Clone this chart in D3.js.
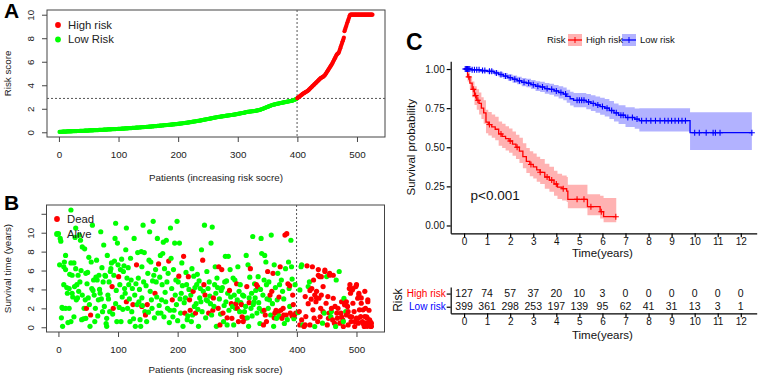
<!DOCTYPE html>
<html>
<head>
<meta charset="utf-8">
<script src="https://cdn.jsdelivr.net/npm/d3@7"></script>
<style>
  body { margin: 0; background: #fff; }
  svg { display: block; font-family: "Liberation Sans", Arial, sans-serif; }
</style>
</head>
<body>
<div id="chart"></div>
<script>
// ---- panel A: sorted risk score per patient (1..526) ----
const riskScores = [
  0.03,0.03,0.04,0.04,0.04,0.05,0.05,0.05,0.05,0.06,0.06,0.06,0.06,0.07,0.07,0.07,0.07,0.07,0.08,0.08,
  0.08,0.08,0.09,0.09,0.09,0.09,0.10,0.10,0.10,0.10,0.11,0.11,0.11,0.11,0.12,0.12,0.12,0.12,0.13,0.13,
  0.13,0.13,0.14,0.14,0.14,0.14,0.15,0.15,0.15,0.15,0.16,0.16,0.16,0.16,0.17,0.17,0.17,0.17,0.18,0.18,
  0.18,0.18,0.19,0.19,0.19,0.19,0.20,0.20,0.20,0.20,0.21,0.21,0.21,0.21,0.22,0.22,0.22,0.22,0.23,0.23,
  0.23,0.24,0.24,0.24,0.25,0.25,0.25,0.25,0.26,0.26,0.26,0.27,0.27,0.27,0.27,0.28,0.28,0.28,0.29,0.29,
  0.29,0.30,0.30,0.30,0.31,0.31,0.31,0.32,0.32,0.32,0.33,0.33,0.33,0.34,0.34,0.34,0.35,0.35,0.35,0.36,
  0.36,0.36,0.37,0.37,0.37,0.38,0.38,0.38,0.39,0.39,0.39,0.40,0.40,0.41,0.41,0.41,0.42,0.42,0.43,0.43,
  0.43,0.44,0.44,0.45,0.45,0.45,0.46,0.46,0.47,0.47,0.48,0.48,0.48,0.49,0.49,0.50,0.50,0.51,0.51,0.52,
  0.52,0.52,0.53,0.53,0.54,0.54,0.55,0.55,0.56,0.56,0.57,0.57,0.58,0.58,0.59,0.59,0.60,0.60,0.61,0.61,
  0.62,0.62,0.63,0.63,0.64,0.64,0.65,0.65,0.66,0.66,0.67,0.67,0.68,0.68,0.69,0.69,0.70,0.70,0.71,0.71,
  0.72,0.73,0.73,0.74,0.75,0.75,0.76,0.77,0.77,0.78,0.79,0.80,0.80,0.81,0.82,0.83,0.83,0.84,0.85,0.86,
  0.87,0.87,0.88,0.89,0.90,0.91,0.92,0.92,0.93,0.94,0.95,0.96,0.97,0.98,0.98,0.99,1.00,1.01,1.02,1.03,
  1.04,1.05,1.06,1.07,1.08,1.09,1.10,1.11,1.12,1.13,1.14,1.15,1.16,1.17,1.18,1.19,1.20,1.21,1.22,1.23,
  1.24,1.25,1.26,1.27,1.28,1.29,1.30,1.31,1.32,1.32,1.33,1.34,1.35,1.35,1.36,1.37,1.38,1.38,1.39,1.40,
  1.41,1.41,1.42,1.43,1.44,1.44,1.45,1.46,1.47,1.47,1.48,1.49,1.50,1.51,1.51,1.52,1.53,1.54,1.55,1.56,
  1.57,1.58,1.59,1.60,1.61,1.62,1.63,1.64,1.65,1.66,1.67,1.68,1.70,1.71,1.72,1.73,1.74,1.74,1.75,1.76,
  1.76,1.77,1.78,1.78,1.79,1.80,1.80,1.81,1.82,1.83,1.84,1.85,1.86,1.87,1.88,1.89,1.90,1.92,1.94,1.96,
  1.98,2.00,2.02,2.04,2.06,2.08,2.10,2.12,2.14,2.16,2.18,2.20,2.22,2.24,2.26,2.28,2.30,2.32,2.34,2.35,
  2.36,2.37,2.38,2.40,2.41,2.42,2.43,2.44,2.45,2.46,2.48,2.49,2.50,2.51,2.52,2.53,2.54,2.55,2.56,2.57,
  2.58,2.59,2.60,2.61,2.62,2.63,2.64,2.65,2.66,2.67,2.68,2.70,2.72,2.74,2.76,2.78,2.80,2.82,2.85,
  2.90,2.94,2.98,3.02,3.06,3.10,3.14,3.18,3.22,3.26,3.30,3.33,3.36,3.39,3.42,3.45,3.48,3.51,3.55,3.60,
  3.65,3.70,3.75,3.80,3.85,3.90,3.95,4.00,4.05,4.10,4.15,4.20,4.25,4.30,4.35,4.40,4.45,4.50,4.55,4.60,
  4.63,4.66,4.69,4.72,4.75,4.80,4.85,4.92,5.00,5.08,5.16,5.24,5.32,5.40,5.48,5.56,5.64,5.72,5.80,5.90,
  6.00,6.10,6.20,6.30,6.40,6.50,6.60,6.65,6.70,6.75,6.85,7.00,7.15,7.30,7.45,7.60,7.75,7.90,8.05,8.60,
  8.75,8.90,9.05,9.20,9.35,9.50,9.65,9.80,9.95,10,10,10,10,10,10,10,10,10,10,10,
  10,10,10,10,10,10,10,10,10,10,10,10,10,10,10,10,10,10,10,10,
  10,10,10,10,10,10,10
];
const lowRiskCount = 399;
const riskCutoff = 2.88;
const patientTicks = [0, 100, 200, 300, 400, 500];
const scoreTicks = [0, 2, 4, 6, 8, 10];

// ---- panel B: [patient, survival years, dead(1)/alive(0)] ----
const survivalPts = [
  [0,9.9,0],[3,9.4,0],[4,9.1,0],[5,1.0,0],[7,0.1,0],[7,2.0,0],[9,6.4,0],[9,4.5,0],[12,2.0,0],[12,7.6,0],
  [12,6.1,0],[15,3.6,0],[18,2.0,0],[18,4.1,0],[21,12.4,0],[21,6.8,0],[21,0.6,0],[23,5.5,0],[23,3.6,0],[26,6.8,0],
  [26,1.1,0],[29,6.2,0],[29,10.5,0],[31,4.5,0],[32,3.1,0],[33,5.5,0],[35,9.75,0],[36,4.8,0],[37,9.2,0],[39,0.8,0],
  [40,8.5,0],[40,3.4,0],[43,2.0,0],[46,0.95,0],[46,5.7,0],[47,2.0,1],[48,4.6,0],[50,3.1,0],[53,0.1,0],[54,1.3,1],
  [56,4.1,0],[57,10.8,0],[59,5.0,0],[60,3.4,0],[61,0.6,0],[64,7.1,0],[65,5.0,0],[67,2.9,0],[68,5.5,0],[70,3.6,0],
  [71,10.1,0],[74,1.65,0],[75,4.8,0],[76,8.7,0],[78,5.5,0],[81,0.95,0],[81,0.1,0],[82,7.6,0],[83,3.4,0],[85,4.8,0],
  [86,1.65,0],[88,6.2,0],[89,6.8,0],[90,4.3,1],[92,2.0,1],[93,5.5,0],[95,9.4,0],[96,11.0,0],[96,2.5,0],[98,0.6,0],
  [99,8.9,0],[100,6.6,0],[101,5.35,1],[103,4.5,0],[104,6.1,0],[105,0.6,0],[107,3.2,0],[109,5.9,0],[111,4.1,0],[113,8.2,0],
  [114,2.7,1],[114,10.5,0],[115,5.2,0],[118,4.5,0],[120,0.6,0],[121,7.3,0],[123,1.65,0],[124,4.1,0],[125,2.4,1],[127,9.4,0],
  [128,3.4,0],[129,0.1,0],[131,6.6,1],[132,2.4,0],[134,5.2,0],[137,0.8,0],[138,0.1,0],[139,8.0,0],[140,6.4,0],[140,3.1,0],
  [142,10.8,0],[143,4.8,0],[145,1.65,0],[146,1.3,1],[148,0.6,0],[149,2.4,1],[150,5.7,0],[152,7.1,0],[153,10.1,0],[154,3.8,0],
  [157,2.0,0],[159,11.2,0],[160,5.5,0],[162,3.6,1],[163,6.1,0],[164,4.8,0],[166,9.4,0],[167,1.5,0],[168,6.7,1],[171,7.6,0],
  [173,2.9,0],[174,4.5,0],[176,9.0,0],[177,1.1,0],[178,6.2,0],[180,2.7,0],[181,9.2,0],[182,4.8,0],[185,7.0,1],[187,1.8,0],
  [188,10.5,0],[190,4.1,0],[191,2.9,1],[192,1.1,0],[193,6.1,0],[195,8.9,0],[196,3.4,0],[199,11.2,0],[201,4.8,0],[202,5.4,1],
  [203,8.9,0],[205,1.5,0],[206,3.6,0],[207,6.8,0],[209,0.1,0],[210,7.5,1],[212,1.5,1],[213,3.1,0],[215,4.5,0],[216,0.8,0],
  [218,5.35,1],[220,2.9,1],[221,1.8,1],[223,0.6,0],[224,6.2,0],[226,3.8,1],[227,5.4,0],[230,1.5,1],[231,2.5,0],[232,4.5,0],
  [235,0.1,0],[237,3.1,0],[238,4.1,0],[240,8.2,0],[241,1.65,0],[242,7.1,1],[244,4.5,1],[245,10.8,0],[246,3.4,1],[248,2.9,0],
  [249,5.9,0],[251,4.1,0],[252,1.5,1],[255,2.5,0],[256,8.9,0],[258,10.6,0],[259,1.8,1],[260,3.1,1],[262,4.5,0],[263,6.4,0],
  [265,0.1,0],[266,5.2,0],[268,2.0,1],[269,6.4,1],[271,0.25,1],[273,3.9,0],[274,6.1,1],[276,1.5,1],[277,0.6,0],[279,4.8,0],
  [280,7.5,0],[281,2.7,0],[283,0.25,0],[284,3.6,0],[285,7.5,0],[287,3.9,1],[288,6.1,0],[290,2.5,1],[291,0.95,1],[293,5.2,0],
  [294,0.25,0],[295,3.4,0],[297,2.0,0],[298,2.5,1],[299,4.6,1],[301,6.4,0],[302,0.6,1],[304,1.65,0],[305,4.5,0],[307,2.4,1],
  [308,1.1,1],[309,3.4,0],[310,0.6,1],[312,1.65,0],[313,0.95,1],[315,7.6,0],[316,4.3,1],[318,6.6,0],[319,0.1,0],[320,3.1,0],
  [322,6.2,1],[323,2.0,0],[324,3.6,0],[326,9.6,0],[327,2.4,0],[329,4.6,0],[330,3.1,0],[332,4.5,1],[333,1.5,0],[334,4.3,1],
  [335,5.35,0],[337,2.0,0],[338,0.4,0],[340,9.4,0],[341,7.8,0],[343,3.4,0],[344,0.25,1],[346,7.6,0],[347,1.3,1],[348,6.9,0],
  [349,0.6,1],[349,4.5,0],[351,5.9,1],[352,2.0,0],[354,2.9,0],[355,3.4,1],[357,9.75,0],[358,3.8,1],[360,5.7,1],[361,0.1,0],
  [362,6.6,0],[363,1.5,1],[365,1.8,1],[366,0.95,0],[368,5.7,0],[369,1.65,1],[371,4.5,0],[372,6.4,1],[373,1.8,1],[375,0.95,1],
  [376,3.8,0],[377,2.0,1],[379,0.4,0],[380,9.75,1],[382,1.3,1],[383,9.9,1],[385,4.6,1],[386,6.9,0],[387,4.1,0],[389,1.5,1],
  [390,9.2,0],[391,6.4,0],[393,3.4,1],[394,2.4,1],[396,1.3,1],[397,4.5,0],[398,1.5,1],
  [2,6.6,0],[6,2.1,0],[10,6.9,0],[14,4.2,0],[16,0.5,0],[19,5.6,0],[24,3.2,0],[27,4.3,0],[28,9.5,0],[30,2.9,0],
  [34,3.8,0],[38,6.0,0],[42,0.9,0],[44,8.3,0],[45,2.9,0],[49,5.8,0],[51,7.4,0],[52,2.4,0],[55,6.9,0],[58,3.9,0],
  [62,2.0,0],[63,5.3,0],[66,1.2,0],[69,4.0,0],[72,3.0,0],[73,6.3,0],[77,2.2,0],[79,5.4,0],[80,0.4,0],[84,3.0,0],
  [87,5.9,0],[91,1.4,0],[94,7.0,0],[97,3.9,0],[102,2.1,0],[106,7.2,0],[108,1.9,0],[110,6.5,0],[112,3.6,0],[116,2.0,0],
  [117,6.3,0],[119,3.0,0],[122,5.0,0],[126,0.9,0],[130,4.6,0],[133,7.9,0],[135,2.7,0],[136,4.0,0],[141,2.3,0],[144,7.9,0],
  [147,4.4,0],[151,1.6,0],[155,6.9,0],[156,2.9,0],[158,4.9,0],[161,1.0,0],[165,3.2,0],[169,2.3,0],[170,5.3,0],[172,1.5,0],
  [175,7.8,0],[179,3.7,0],[183,2.0,0],[184,5.7,0],[186,0.5,0],[189,7.3,0],[194,1.8,0],[197,5.0,0],[198,2.4,0],[200,0.7,0],
  [204,3.0,0],[208,4.4,0],[211,2.6,0],[214,5.8,0],[217,1.2,0],[219,4.0,0],[222,3.4,0],[225,1.3,0],[228,2.2,0],[229,4.2,0],
  [233,5.6,0],[234,1.9,0],[236,4.9,0],[239,2.7,0],[243,3.8,0],[247,1.0,0],[250,2.8,0],[253,4.8,0],[254,3.3,0],[257,1.3,0],
  [261,2.2,0],[264,3.6,0],[267,4.2,0],[270,3.0,0],[272,1.4,0],[275,4.2,0],[278,2.3,0],[282,4.9,0],[286,1.8,0],[289,3.2,0],
  [292,2.2,0],[296,5.0,0],[300,2.9,0],[303,3.8,0],[306,2.6,0],[311,3.3,0],[314,2.2,0],[317,1.0,0],[321,5.3,0],[325,1.2,0],
  [328,2.7,0],[331,3.9,0],[336,2.6,0],[339,4.0,0],[342,1.7,0],[345,5.0,0],[350,3.0,0],[353,4.8,0],[356,1.3,0],[359,2.5,0],
  [364,4.2,0],[367,2.9,0],[370,1.2,0],[374,5.0,0],[378,3.0,0],[381,6.2,0],[384,0.8,0],[388,2.2,0],[392,5.1,0],[395,0.9,0],
  [140,2.2,1],[283,1.0,1],[300,2.0,1],[320,2.6,1],[345,1.8,1],[362,1.0,1],[370,3.2,1],[388,4.4,1],[392,1.2,1],[378,1.3,1],
  [402,1.55,0],[404,1.66,1],[405,3.95,0],[405,0.25,1],[407,6.4,0],[408,0.78,1],[408,6.6,0],[410,0.25,0],[412,0.08,1],[414,3.25,1],
  [414,0.25,1],[415,1.13,1],[417,6.5,1],[419,4.3,0],[419,2.5,1],[421,4.8,0],[422,0.25,1],[422,3.9,1],[424,2.97,1],[425,4.1,1],
  [426,6.4,1],[427,1.84,1],[428,5.0,1],[429,0.96,1],[430,0.08,0],[430,3.4,1],[432,2.7,1],[433,3.8,1],[433,3.1,1],[435,0.6,1],
  [436,6.1,1],[436,5.5,1],[437,3.07,1],[438,5.36,1],[439,1.1,1],[440,2.0,1],[441,3.4,1],[441,5.35,1],[443,0.43,0],[444,4.3,1],
  [444,1.65,1],[446,1.5,0],[447,5.9,1],[447,6.05,1],[449,2.54,1],[450,5.36,0],[451,0.25,1],[452,3.25,1],[453,0.95,1],[454,1.5,1],
  [455,5.5,1],[455,5.7,1],[457,1.13,0],[458,1.66,0],[458,2.0,1],[460,0.78,1],[461,3.07,1],[461,5.5,1],[463,0.43,1],[464,2.2,1],
  [465,0.08,0],[466,5.0,0],[467,1.5,1],[468,0.96,1],[469,2.0,1],[471,5.9,0],[472,0.43,1],[474,1.5,1],[475,2.7,1],[475,1.1,1],
  [477,0.78,1],[478,0.08,1],[478,0.6,0],[479,3.07,0],[480,2.37,1],[482,1.66,0],[483,1.3,1],[483,2.7,1],[485,2.2,1],[486,0.25,1],
  [486,1.65,1],[488,4.1,1],[489,1.13,1],[489,4.5,1],[490,3.6,1],[491,0.6,1],[492,1.1,1],[493,3.95,1],[494,2.54,1],[494,4.1,1],
  [496,1.66,1],[497,0.08,1],[497,0.6,1],[499,4.3,1],[500,0.96,1],[500,4.5,1],[502,3.07,1],[503,0.43,1],[503,0.95,1],[504,3.6,1],
  [504,3.4,1],[505,1.84,1],[507,1.13,1],[508,2.54,1],[508,3.1,1],[510,0.6,1],[511,1.84,1],[511,0.4,1],[513,0.08,1],[514,1.13,1],
  [514,3.8,1],[515,2.0,1],[516,0.43,1],[517,1.1,1],[518,0.96,1],[518,0.1,1],[519,2.9,1],[519,2.7,1],[521,0.25,1],[521,1.8,1],
  [522,0.78,1],[523,0.6,1],[524,0.08,1],[525,0.43,1],[525,0.1,1]
];
const timeTicksB = [0, 2, 4, 6, 8, 10, 12];
const timeLabelsB = [0, 2, 4, 6, 8, 10];

// ---- panel C: Kaplan-Meier steps ----
const highTime  = [0,0.15,0.25,0.35,0.45,0.55,0.65,0.75,0.85,0.95,1.05,1.2,1.35,1.5,1.65,1.8,1.95,2.1,2.25,2.4,2.55,2.7,2.85,3.0,3.15,3.3,3.5,3.7,3.9,4.05,4.25,4.45,4.5,5.35,5.9,6.05,6.6];
const highSurv  = [1,0.95,0.91,0.87,0.83,0.80,0.78,0.75,0.72,0.66,0.645,0.63,0.615,0.585,0.57,0.555,0.54,0.52,0.50,0.475,0.44,0.41,0.39,0.375,0.355,0.34,0.31,0.29,0.265,0.245,0.235,0.22,0.167,0.12,0.088,0.056,0.056];
const highLower = [1,0.92,0.87,0.82,0.77,0.74,0.71,0.68,0.65,0.59,0.575,0.56,0.545,0.51,0.495,0.48,0.465,0.445,0.425,0.40,0.365,0.335,0.315,0.30,0.28,0.265,0.235,0.215,0.19,0.17,0.16,0.15,0.11,0.065,0.045,0.02,0.02];
const highUpper = [1,0.98,0.95,0.92,0.89,0.87,0.85,0.82,0.80,0.74,0.725,0.71,0.695,0.665,0.65,0.635,0.62,0.60,0.58,0.56,0.525,0.495,0.475,0.46,0.44,0.425,0.395,0.375,0.35,0.33,0.32,0.31,0.26,0.20,0.19,0.176,0.176];
const highCensor = [0.1,0.2,0.4,0.5,0.6,1.1,1.6,2.0,2.3,2.9,3.3,3.6,3.8,4.0,4.3,4.9,5.2,5.5,5.95,6.58];

const lowTime  = [0,0.3,0.7,1.0,1.3,1.5,1.7,1.9,2.1,2.3,2.5,2.7,2.9,3.1,3.3,3.5,3.7,3.9,4.1,4.3,4.45,4.6,4.75,5.3,5.5,5.7,5.9,6.1,6.3,6.5,6.7,7.0,7.4,7.6,9.8,12.48];
const lowSurv  = [1,0.995,0.99,0.985,0.975,0.965,0.955,0.945,0.935,0.925,0.915,0.91,0.90,0.89,0.885,0.875,0.87,0.86,0.85,0.84,0.825,0.81,0.80,0.79,0.78,0.77,0.76,0.75,0.735,0.72,0.705,0.69,0.68,0.67,0.593,0.593];
const lowLower = [1,0.99,0.98,0.972,0.96,0.948,0.937,0.925,0.913,0.902,0.89,0.884,0.872,0.86,0.853,0.842,0.836,0.824,0.812,0.80,0.784,0.767,0.755,0.743,0.731,0.72,0.708,0.696,0.68,0.664,0.648,0.63,0.618,0.60,0.482,0.482];
const lowUpper = [1,1,1,0.998,0.99,0.982,0.974,0.966,0.958,0.95,0.942,0.938,0.93,0.922,0.918,0.91,0.906,0.898,0.89,0.882,0.868,0.855,0.847,0.84,0.832,0.824,0.816,0.808,0.795,0.78,0.768,0.755,0.748,0.749,0.723,0.723];
const lowCensor = [0.05,0.1,0.15,0.2,0.25,0.35,0.45,0.55,0.65,0.8,0.9,1.1,1.2,1.4,1.6,1.8,2.0,2.2,2.4,2.6,2.8,3.0,3.2,3.4,3.6,3.8,4.0,4.2,4.4,4.9,5.0,5.1,5.2,5.4,5.6,5.8,6.0,6.2,6.4,6.6,6.8,6.9,7.1,7.3,7.5,7.7,7.9,8.1,8.3,8.5,8.7,8.85,9.0,9.15,9.3,9.45,9.6,10.0,10.2,10.5,10.8,10.9,11.1,12.48];

const yearTicks = d3.range(0, 13);
const survTicks = [0, 0.25, 0.5, 0.75, 1];
const riskGroups = ["High risk", "Low risk"];
const atRiskHigh = [127,74,57,37,20,10,3,0,0,0,0,0,0];
const atRiskLow  = [399,361,298,253,197,139,95,62,41,31,13,3,1];

const RED = "#ff0000", GREEN = "#00ff00", BLUE = "#0000ff";

const svg = d3.select("#chart").append("svg")
    .attr("width", 768)
    .attr("height", 378);

// R-like panel helper
function rPanel(x, y, xTicks, yTicks, yLabels, xTitle, yTitle, titleGap) {
    let g = svg.append("g");
    let [x0, x1] = x.range(), [y0, y1] = y.range();
    g.append("rect")
        .attr("x", x0).attr("y", y1)
        .attr("width", x1 - x0).attr("height", y0 - y1)
        .attr("fill", "none").attr("stroke", "#444");

    g.append("g")
        .attr("transform", `translate(0,${y0})`)
        .call(d3.axisBottom(x).tickValues(xTicks).tickSize(5).tickPadding(9))
        .call(a => a.select(".domain").remove())
        .call(a => a.selectAll("line").attr("stroke", "#444"))
        .call(a => a.selectAll("text").attr("font-size", 9.8).attr("fill", "#222")
            .attr("font-family", "Liberation Sans, Arial, sans-serif"));

    g.append("g")
        .attr("transform", `translate(${x0},0)`)
        .call(d3.axisLeft(y).tickValues(yTicks).tickSize(5)
            .tickFormat(d => yLabels.includes(d) ? d : ""))
        .call(a => a.select(".domain").remove())
        .call(a => a.selectAll("line").attr("stroke", "#444"))
        .call(a => a.selectAll("text")
            .attr("transform", "rotate(-90)")
            .attr("x", 0).attr("y", -13).attr("dy", 0)
            .attr("text-anchor", "middle")
            .attr("font-size", 9.8).attr("fill", "#222")
            .attr("font-family", "Liberation Sans, Arial, sans-serif"));

    g.append("text")
        .attr("x", (x0 + x1) / 2).attr("y", y0 + titleGap)
        .attr("text-anchor", "middle").attr("font-size", 9.8).attr("fill", "#222")
        .text(xTitle);
    g.append("text")
        .attr("transform", `translate(11,${(y0 + y1) / 2}) rotate(-90)`)
        .attr("text-anchor", "middle").attr("font-size", 9.8).attr("fill", "#222")
        .text(yTitle);
    return g;
}

// ---------------- Panel A ----------------
let xA = d3.scaleLinear().domain([-20, 547]).range([47, 385]);
let yA = d3.scaleLinear().domain([-0.4, 10.4]).range([137, 10]);
let gA = rPanel(xA, yA, patientTicks, scoreTicks, scoreTicks,
    "Patients (increasing risk socre)", "Risk score", 44);

gA.append("line")
    .attr("x1", xA.range()[0]).attr("x2", xA.range()[1])
    .attr("y1", yA(riskCutoff)).attr("y2", yA(riskCutoff))
    .attr("stroke", "#555").attr("stroke-dasharray", "2,2");
gA.append("line")
    .attr("x1", xA(lowRiskCount + 0.5)).attr("x2", xA(lowRiskCount + 0.5))
    .attr("y1", yA.range()[1]).attr("y2", yA.range()[0])
    .attr("stroke", "#555").attr("stroke-dasharray", "2,2");

gA.append("g")
    .selectAll("circle")
    .data(riskScores)
    .join("circle")
    .attr("cx", (d, i) => xA(i + 1))
    .attr("cy", d => yA(d))
    .attr("r", 2.1)
    .attr("fill", (d, i) => i < lowRiskCount ? GREEN : RED);

let legA = [["High risk", RED], ["Low Risk", GREEN]];
gA.append("g").selectAll("g")
    .data(legA)
    .join("g")
    .attr("transform", (d, i) => `translate(58,${25 + i * 14.5})`)
    .call(g => g.append("circle").attr("r", 2.9).attr("fill", d => d[1]))
    .call(g => g.append("text").attr("x", 10).attr("dy", "0.35em")
        .attr("font-size", 11.3).attr("fill", "#222").text(d => d[0]));

svg.append("text").attr("x", 4).attr("y", 18)
    .attr("font-size", 21).attr("font-weight", "bold").text("A");

// ---------------- Panel B ----------------
let xB = d3.scaleLinear().domain([-20, 547]).range([46.5, 384.5]);
let yB = d3.scaleLinear().domain([-0.5, 12.93]).range([332, 205]);
let gB = rPanel(xB, yB, patientTicks, timeTicksB, timeLabelsB,
    "Patients (increasing risk socre)", "Survival time (years)", 41);

gB.append("line")
    .attr("x1", xB(lowRiskCount + 0.5)).attr("x2", xB(lowRiskCount + 0.5))
    .attr("y1", yB.range()[1]).attr("y2", yB.range()[0])
    .attr("stroke", "#555").attr("stroke-dasharray", "2,2");

gB.append("g")
    .selectAll("circle")
    .data(survivalPts.slice().sort((a, b) => a[0] - b[0]))
    .join("circle")
    .attr("cx", d => xB(d[0]))
    .attr("cy", d => yB(d[1]))
    .attr("r", 2.6)
    .attr("fill", d => d[2] ? RED : GREEN);

let legB = [["Dead", RED], ["Alive", GREEN]];
gB.append("g").selectAll("g")
    .data(legB)
    .join("g")
    .attr("transform", (d, i) => `translate(57,${219 + i * 15})`)
    .call(g => g.append("circle").attr("r", 2.9).attr("fill", d => d[1]))
    .call(g => g.append("text").attr("x", 10).attr("dy", "0.35em")
        .attr("font-size", 11.3).attr("fill", "#222").text(d => d[0]));

svg.append("text").attr("x", 4).attr("y", 210)
    .attr("font-size", 21).attr("font-weight", "bold").text("B");

// ---------------- Panel C ----------------
let xC = d3.scaleLinear().domain([-0.58, 12.69]).range([450.7, 756.7]);
let yC = d3.scaleLinear().domain([-0.05, 1.05]).range([233.3, 61.2]);
let gC = svg.append("g");

function kmSeries(times, surv, lower, upper) {
    return times.map((t, i) => ({ t: t, s: surv[i], lo: lower[i], hi: upper[i] }));
}
let curves = [
    { name: "High risk", color: RED, fill: "rgba(255,0,0,0.3)",
      pts: kmSeries(highTime, highSurv, highLower, highUpper), censor: highCensor },
    { name: "Low risk", color: BLUE, fill: "rgba(0,0,255,0.3)",
      pts: kmSeries(lowTime, lowSurv, lowLower, lowUpper), censor: lowCensor }
];

let band = d3.area().curve(d3.curveStepAfter)
    .x(d => xC(d.t)).y0(d => yC(d.lo)).y1(d => yC(d.hi));
let kmLine = d3.line().curve(d3.curveStepAfter)
    .x(d => xC(d.t)).y(d => yC(d.s));

gC.selectAll("path.band").data(curves).join("path")
    .attr("class", "band").attr("d", d => band(d.pts))
    .attr("fill", d => d.fill).attr("stroke", "none");
gC.selectAll("path.km").data(curves).join("path")
    .attr("class", "km").attr("d", d => kmLine(d.pts))
    .attr("fill", "none").attr("stroke", d => d.color).attr("stroke-width", 1.3);

function survAt(pts, t) {
    let i = d3.bisectRight(pts.map(p => p.t), t) - 1;
    return pts[Math.max(0, i)].s;
}
curves.forEach(c => {
    gC.append("g").selectAll("path")
        .data(c.censor)
        .join("path")
        .attr("transform", t => `translate(${xC(t)},${yC(survAt(c.pts, t))})`)
        .attr("d", "M-3,0H3M0,-3V3")
        .attr("stroke", c.color).attr("stroke-width", 1.1);
});

// axes C
gC.append("g")
    .attr("transform", `translate(${xC.range()[0]},0)`)
    .call(d3.axisLeft(yC).tickValues(survTicks).tickFormat(d3.format(".2f"))
        .tickSize(4).tickSizeOuter(0).tickPadding(2))
    .call(a => a.selectAll("path,line").attr("stroke", "#000").attr("stroke-width", 1.2))
    .call(a => a.selectAll("text").attr("font-size", 10).attr("fill", "#111")
        .attr("font-family", "Liberation Sans, Arial, sans-serif"));
gC.append("g")
    .attr("transform", `translate(0,${yC.range()[0]})`)
    .call(d3.axisBottom(xC).tickValues(yearTicks).tickSize(4).tickSizeOuter(0).tickPadding(1))
    .call(a => a.selectAll("path,line").attr("stroke", "#000").attr("stroke-width", 1.2))
    .call(a => a.selectAll("text").attr("font-size", 10).attr("fill", "#111")
        .attr("font-family", "Liberation Sans, Arial, sans-serif"));

gC.append("text").attr("x", xC(6)).attr("y", 256.5)
    .attr("text-anchor", "middle").attr("font-size", 11.5).attr("fill", "#111")
    .text("Time(years)");
gC.append("text")
    .attr("transform", `translate(414.5,${yC(0.5)}) rotate(-90)`)
    .attr("text-anchor", "middle").attr("font-size", 11.5).attr("fill", "#111")
    .text("Survival probability");
gC.append("text").attr("x", 470.5).attr("y", 199.5)
    .attr("font-size", 13.5).attr("fill", "#111").text("p<0.001");

svg.append("text").attr("x", 406).attr("y", 50)
    .attr("font-size", 23).attr("font-weight", "bold").text("C");

// legend C
let legC = gC.append("g").attr("font-size", 9.5).attr("fill", "#111");
legC.append("text").attr("x", 547).attr("y", 40).attr("dy", "0.35em").text("Risk");
curves.forEach((c, i) => {
    let lx = 568 + i * 54;
    legC.append("rect").attr("x", lx).attr("y", 34).attr("width", 14).attr("height", 12)
        .attr("fill", c.fill);
    legC.append("line").attr("x1", lx).attr("x2", lx + 14).attr("y1", 40).attr("y2", 40)
        .attr("stroke", c.color).attr("stroke-width", 1.3);
    legC.append("path").attr("d", `M${lx + 7},37V43`).attr("stroke", c.color);
    legC.append("text").attr("x", lx + 18).attr("y", 40).attr("dy", "0.35em").text(c.name);
});

// risk table
let yT = d3.scalePoint().domain(riskGroups.slice().reverse()).range([313.3, 287]).padding(0.5);
let gT = svg.append("g");
gT.append("g")
    .attr("transform", `translate(${xC.range()[0]},0)`)
    .call(d3.axisLeft(yT).tickSize(4).tickSizeOuter(0).tickPadding(1))
    .call(a => a.selectAll("path,line").attr("stroke", "#000").attr("stroke-width", 1.2))
    .call(a => a.selectAll("text").attr("font-size", 10)
        .attr("font-family", "Liberation Sans, Arial, sans-serif")
        .attr("fill", d => d === "High risk" ? RED : BLUE));
gT.append("g")
    .attr("transform", `translate(0,${yT.range()[0]})`)
    .call(d3.axisBottom(xC).tickValues(yearTicks).tickSize(4).tickSizeOuter(0).tickPadding(1))
    .call(a => a.selectAll("path,line").attr("stroke", "#000").attr("stroke-width", 1.2))
    .call(a => a.selectAll("text").attr("font-size", 10).attr("fill", "#111")
        .attr("font-family", "Liberation Sans, Arial, sans-serif"));

let rows = [["High risk", atRiskHigh], ["Low risk", atRiskLow]];
rows.forEach(([grp, vals]) => {
    gT.append("g").selectAll("text")
        .data(vals)
        .join("text")
        .attr("x", (d, i) => xC(yearTicks[i]))
        .attr("y", yT(grp))
        .attr("dy", "0.35em")
        .attr("text-anchor", "middle")
        .attr("font-size", 10.5).attr("fill", "#111")
        .text(d => d);
});
gT.append("text").attr("x", xC(6)).attr("y", 339)
    .attr("text-anchor", "middle").attr("font-size", 11.5).attr("fill", "#111")
    .text("Time(years)");
gT.append("text")
    .attr("transform", `translate(402,${(yT.range()[0] + yT.range()[1]) / 2}) rotate(-90)`)
    .attr("text-anchor", "middle").attr("font-size", 12).attr("fill", "#111")
    .text("Risk");
</script>
</body>
</html>
